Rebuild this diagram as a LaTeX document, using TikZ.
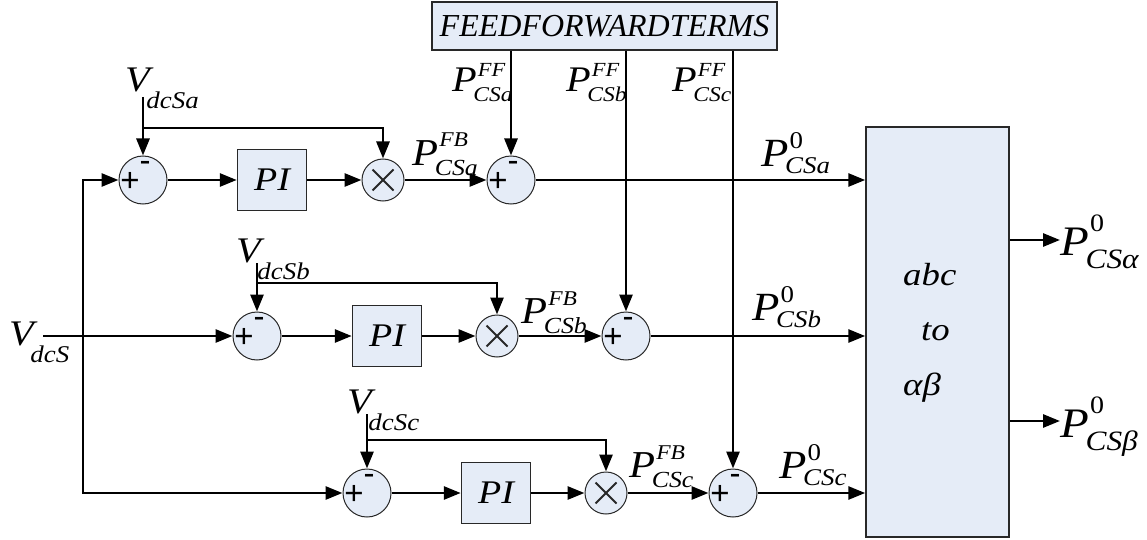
\documentclass[tikz,border=0pt]{standalone}
\usepackage{fontspec}
\usepackage{graphicx}
\setmainfont{Liberation Serif}
\newfontfamily\sansf{Liberation Sans}
\usetikzlibrary{arrows.meta}
\definecolor{bfill}{RGB}{229,236,247}
\definecolor{bdraw}{RGB}{40,40,40}
\newlength{\ssw}
\newsavebox{\supbx}
\newsavebox{\subbx}
% #1 letter, #2 size, #3 sub, #4 subsize, #5 lower, #6 sup, #7 supsize, #8 raise
\newcommand{\Sym}[8]{%
  \sbox{\supbx}{\kern4pt\fontsize{#7}{#7}\selectfont\itshape #6}%
  \sbox{\subbx}{\fontsize{#4}{#4}\selectfont\itshape #3}%
  \ifdim\wd\supbx>\wd\subbx \ssw=\wd\supbx\else\ssw=\wd\subbx\fi
  \scalebox{1.12}[1]{{\fontsize{#2}{#2}\selectfont\itshape #1}\kern-3pt\rlap{\raisebox{#8}{\usebox{\supbx}}}\rlap{\raisebox{-#5}{\usebox{\subbx}}}\kern\ssw}}
\newcommand{\Vl}[1]{\Sym{V}{36}{#1}{24}{17pt}{}{20}{0pt}}
\newcommand{\PFF}[1]{\Sym{P}{36}{#1}{21}{10pt}{FF}{20}{15pt}}
\newcommand{\PFB}[1]{\Sym{P}{38}{#1}{23}{10pt}{FB}{21}{18pt}}
\newcommand{\PZ}[1]{\Sym{P}{40}{#1}{24}{7pt}{\upshape 0}{24}{18pt}}
\newcommand{\PO}[1]{\Sym{P}{42}{#1}{28}{13pt}{\upshape 0}{25}{24pt}}
\newcommand{\pitext}{\scalebox{1.15}[1]{\fontsize{33}{33}\selectfont\itshape PI}}
\newcommand{\boxtxt}[1]{\scalebox{1.15}[1]{\fontsize{32}{32}\selectfont\itshape #1}}
\newcommand{\plussign}{\scalebox{1.1}{\sansf\fontsize{30}{30}\selectfont +}}
\newcommand{\minussign}{\scalebox{1.1}{\sansf\fontsize{30}{30}\selectfont -}}
\tikzset{
  conn/.style={line width=2.8pt, line join=miter},
  >={Triangle[length=17pt,width=13pt]},
  pmlab/.style={inner sep=0pt},
  sumn/.style={circle, draw=bdraw, line width=1pt, fill=bfill, minimum size=48pt, inner sep=0pt,
    label={[pmlab, shift={(-13pt,-2pt)}]center:{\plussign}},
    label={[pmlab, shift={(2pt,14pt)}]center:{\minussign}}},
  multn/.style={circle, draw=bdraw, line width=1pt, fill=bfill, minimum size=42pt, inner sep=0pt,
    path picture={
      \draw[line width=1.8pt] ([shift={(-10.5pt,-10.5pt)}]path picture bounding box.center) -- ([shift={(10.5pt,10.5pt)}]path picture bounding box.center);
      \draw[line width=1.8pt] ([shift={(-10.5pt,10.5pt)}]path picture bounding box.center) -- ([shift={(10.5pt,-10.5pt)}]path picture bounding box.center);}},
  blk/.style={draw=bdraw, line width=1.5pt, fill=bfill, inner sep=0pt},
  pibox/.style={blk, minimum width=69pt, minimum height=61pt},
  lab/.style={inner sep=0pt, anchor=base west},
}
\begin{document}
\begin{tikzpicture}[x=1pt,y=-1pt]
\path[use as bounding box, fill=white] (0,0) rectangle (1147,540);

% feedforward box and big transform box
\node[blk, minimum width=345pt, minimum height=48pt] (ff) at (604.5,26) {\fontsize{32}{32}\selectfont\itshape FEEDFORWARDTERMS};
\node[blk, minimum width=143pt, minimum height=410pt] (big) at (937.5,332) {};
\node[lab] (tabc) at (903,285) {\boxtxt{abc}};
\node[lab] (tto) at (921,340) {\boxtxt{to}};
\node[lab] (tab) at (903,395) {\boxtxt{αβ}};

% row a
\node[sumn] (sa1) at (143,180) {};
\node[pibox] (pia) at (272,180) {\pitext};
\node[multn] (ma) at (383,180) {};
\node[sumn] (sa2) at (511,180) {};
% row b
\node[sumn] (sb1) at (257,336) {};
\node[pibox] (pib) at (387,336) {\pitext};
\node[multn] (mb) at (497,336) {};
\node[sumn] (sb2) at (626,336) {};
% row c
\node[sumn] (sc1) at (367,493) {};
\node[pibox] (pic) at (496,493) {\pitext};
\node[multn] (mc) at (606,493) {};
\node[sumn] (sc2) at (733,493) {};

% labels
\node[lab] (lvs) at (9,345) {\Vl{dcS}};
\node[lab] (lva) at (125,92) {\Vl{dcSa}};
\node[lab] (lvb) at (236,262) {\Vl{dcSb}};
\node[lab] (lvc) at (347,413) {\Vl{dcSc}};
\node[lab] (lffa) at (452,92) {\PFF{CSa}};
\node[lab] (lffb) at (566,92) {\PFF{CSb}};
\node[lab] (lffc) at (672,92) {\PFF{CSc}};
\node[lab] (lfba) at (412,165) {\PFB{CSa}};
\node[lab] (lfbb) at (521,323) {\PFB{CSb}};
\node[lab] (lfbc) at (629,477) {\PFB{CSc}};
\node[lab] (l0a) at (761,167) {\PZ{CSa}};
\node[lab] (l0b) at (752,320) {\PZ{CSb}};
\node[lab] (l0c) at (779,478) {\PZ{CSc}};
\node[lab] (lal) at (1060,255) {\PO{CSα}};
\node[lab] (lbe) at (1060,437) {\PO{CSβ}};

% free ends
\coordinate (vin) at (43,336);
\coordinate (jn) at (83,336);
\coordinate (va) at (143,97);
\coordinate (vab) at (143,128);
\coordinate (vb) at (257,263);
\coordinate (vbb) at (257,283);
\coordinate (vc) at (367,414);
\coordinate (vcb) at (367,440);
\coordinate (oal) at (1060,240);
\coordinate (obe) at (1060,421);

% connectors
\draw[conn,->] (vin) -- (sb1);
\draw[conn,<->] (sa1) -| (jn) |- (sc1);

\draw[conn,->] (va) -- (sa1);
\draw[conn,->] (vab) -| (ma);
\draw[conn,->] (vb) -- (sb1);
\draw[conn,->] (vbb) -| (mb);
\draw[conn,->] (vc) -- (sc1);
\draw[conn,->] (vcb) -| (mc);

\draw[conn,->] (sa1) -- (pia);
\draw[conn,->] (pia) -- (ma);
\draw[conn,->] (ma) -- (sa2);
\draw[conn,->] (sb1) -- (pib);
\draw[conn,->] (pib) -- (mb);
\draw[conn,->] (mb) -- (sb2);
\draw[conn,->] (sc1) -- (pic);
\draw[conn,->] (pic) -- (mc);
\draw[conn,->] (mc) -- (sc2);

\draw[conn,->] (ff.south -| sa2) -- (sa2);
\draw[conn,->] (ff.south -| sb2) -- (sb2);
\draw[conn,->] (ff.south -| sc2) -- (sc2);

\draw[conn,->] (sa2) -- (sa2 -| big.west);
\draw[conn,->] (sb2) -- (sb2 -| big.west);
\draw[conn,->] (sc2) -- (sc2 -| big.west);

\draw[conn,->] (oal -| big.east) -- (oal);
\draw[conn,->] (obe -| big.east) -- (obe);
\end{tikzpicture}
\end{document}
